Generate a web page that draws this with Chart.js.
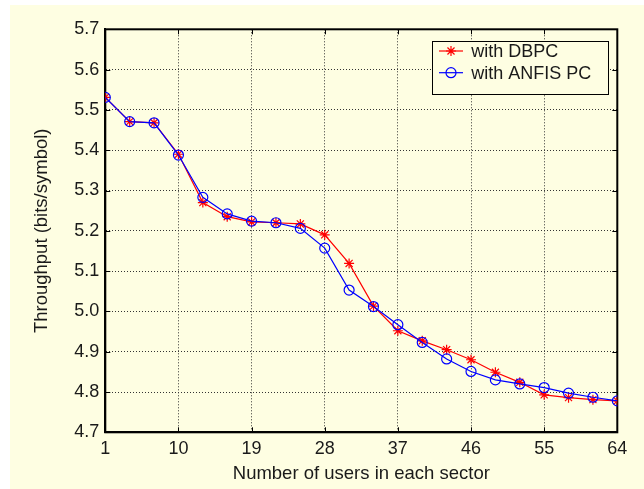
<!DOCTYPE html>
<html><head><meta charset="utf-8">
<script src="https://cdn.jsdelivr.net/npm/chart.js@4.4.1/dist/chart.umd.min.js"></script>
<style>
html,body{margin:0;padding:0;background:#fff;width:644px;height:489px;overflow:hidden}
#wrap{position:absolute;left:10px;top:5px;width:634px;height:484px;background:#FEFEE2}
canvas{display:block}
</style></head><body>
<div id="wrap"><canvas id="c" width="634" height="484"></canvas></div>
<script>
const users = [1,4,7,10,13,16,19,22,25,28,31,34,37,40,43,46,49,52,55,58,61,64];
const dbpc  = [5.531,5.471,5.468,5.390,5.270,5.235,5.222,5.220,5.217,5.190,5.119,5.013,4.952,4.927,4.905,4.880,4.849,4.824,4.793,4.786,4.781,4.778];
const anfis = [5.531,5.471,5.468,5.388,5.283,5.242,5.224,5.220,5.206,5.157,5.053,5.012,4.967,4.923,4.882,4.851,4.830,4.820,4.811,4.797,4.787,4.778];
const xTicks = [1,10,19,28,37,46,55,64];
const yTicks = [4.7,4.8,4.9,5.0,5.1,5.2,5.3,5.4,5.5,5.6,5.7];
const seriesLabels = ['with DBPC','with ANFIS PC'];
const xTitle = 'Number of users in each sector';
const yTitle = 'Throughput (bits/symbol)';

const FONT = "'Liberation Sans', Arial, sans-serif";
const TXT = '#1a1a1a';
const RED = '#ff0000', BLUE = '#0000ff', BG = '#FEFEE2';

function drawStar(ctx, x, y, r){
  ctx.beginPath();
  ctx.moveTo(x-r,y); ctx.lineTo(x+r,y);
  ctx.moveTo(x,y-r); ctx.lineTo(x,y+r);
  const d = r*Math.SQRT1_2;
  ctx.moveTo(x-d,y-d); ctx.lineTo(x+d,y+d);
  ctx.moveTo(x-d,y+d); ctx.lineTo(x+d,y-d);
  ctx.stroke();
}

const framePlugin = {
  id:'frame',
  beforeDatasetsDraw(chart){
    const {ctx, chartArea:a, scales} = chart;
    ctx.save();
    ctx.strokeStyle = '#000';
    ctx.lineWidth = 1;
    ctx.beginPath();
    xTicks.forEach(v=>{
      const px = Math.round(scales.x.getPixelForValue(v))+0.5;
      ctx.moveTo(px,a.bottom); ctx.lineTo(px,a.bottom-5);
      ctx.moveTo(px,a.top); ctx.lineTo(px,a.top+5);
    });
    yTicks.forEach(v=>{
      const py = Math.round(scales.y.getPixelForValue(v))+0.5;
      ctx.moveTo(a.left,py); ctx.lineTo(a.left+5,py);
      ctx.moveTo(a.right,py); ctx.lineTo(a.right-5,py);
    });
    ctx.stroke();
    ctx.lineWidth = 2;
    ctx.strokeRect(a.left, a.top, a.right-a.left, a.bottom-a.top);
    ctx.restore();
  },
  afterDraw(chart){
    const {ctx, chartArea:a} = chart;
    const w = 176, h = 53.3;
    const bx = a.right - 9 - w, by = a.top + 11.4;
    ctx.save();
    ctx.fillStyle = BG;
    ctx.fillRect(bx,by,w,h);
    ctx.strokeStyle = '#000';
    ctx.lineWidth = 1;
    ctx.strokeRect(Math.round(bx)+0.5, Math.round(by)+0.5, Math.round(w), Math.round(h));
    const rows = [by+10.3, by+32];
    const cols = [RED, BLUE];
    ctx.font = "18px " + FONT;
    ctx.textBaseline = 'middle';
    rows.forEach((ry,i)=>{
      ctx.strokeStyle = cols[i];
      ctx.lineWidth = 1.2;
      ctx.beginPath();
      ctx.moveTo(bx+6.7, ry); ctx.lineTo(bx+30.7, ry); ctx.stroke();
      if(i===0){ drawStar(ctx, bx+18.7, ry, 5); }
      else { ctx.beginPath(); ctx.arc(bx+18.7, ry, 5, 0, Math.PI*2); ctx.stroke(); }
      ctx.fillStyle = TXT;
      ctx.fillText(seriesLabels[i], bx+39, ry+1);
    });
    ctx.restore();
  }
};

new Chart(document.getElementById('c'), {
  type:'line',
  data:{
    datasets:[
      {label:seriesLabels[0], data:users.map((u,i)=>({x:u,y:dbpc[i]})),
       borderColor:RED, backgroundColor:RED, borderWidth:1.2,
       pointStyle:'star', pointRadius:5, pointBorderWidth:1.2, pointBorderColor:RED,
       tension:0, fill:false, order:2},
      {label:seriesLabels[1], data:users.map((u,i)=>({x:u,y:anfis[i]})),
       borderColor:BLUE, backgroundColor:'rgba(0,0,0,0)', borderWidth:1.2,
       pointStyle:'circle', pointRadius:5, pointBorderWidth:1.2, pointBorderColor:BLUE,
       pointBackgroundColor:'rgba(0,0,0,0)',
       tension:0, fill:false, order:1}
    ]
  },
  options:{
    responsive:false, animation:false, devicePixelRatio:1,
    layout:{padding:{left:0, right:26.7, top:24.3, bottom:0}},
    plugins:{legend:{display:false}, tooltip:{enabled:false}},
    scales:{
      x:{type:'linear', min:1, max:64,
        afterBuildTicks:s=>{ s.ticks = xTicks.map(v=>({value:v})); },
        afterFit:s=>{ s.height = 56.7; },
        ticks:{autoSkip:false, maxRotation:0, padding:6, color:TXT, font:{family:FONT, size:18}, callback:v=>String(v)},
        grid:{color:'#333', lineWidth:1, drawTicks:false},
        border:{display:true, color:'#000', width:2, dash:[1,2]},
        title:{display:true, text:xTitle, color:TXT, font:{family:FONT, size:18.5}, padding:{top:0,bottom:4}}
      },
      y:{type:'linear', min:4.7, max:5.7,
        afterBuildTicks:s=>{ s.ticks = yTicks.map(v=>({value:v})); },
        afterFit:s=>{ s.width = 95.3; },
        ticks:{autoSkip:false, padding:6, color:TXT, font:{family:FONT, size:18}, callback:v=>Number(v).toFixed(1)},
        grid:{color:'#333', lineWidth:1, drawTicks:false},
        border:{display:true, color:'#000', width:2, dash:[1,2]},
        title:{display:true, text:yTitle, color:TXT, font:{family:FONT, size:18.5}, padding:{top:20.6,bottom:0}}
      }
    }
  },
  plugins:[framePlugin]
});
</script>
</body></html>
